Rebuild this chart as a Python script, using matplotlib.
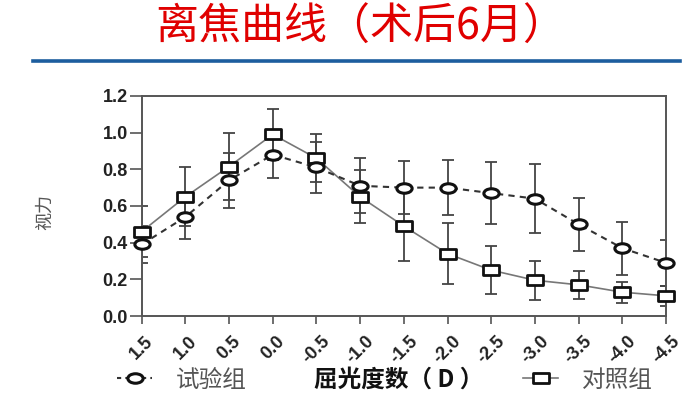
import numpy as np
import matplotlib
matplotlib.use("Agg")
import matplotlib.pyplot as plt
from matplotlib.path import Path
from matplotlib.transforms import Affine2D
from matplotlib.lines import Line2D

plt.rcParams['font.family'] = ['Noto Sans CJK SC', 'DejaVu Sans']
plt.rcParams['axes.unicode_minus'] = False

# 데이터
diopter = [1.5, 1.0, 0.5, 0.0, -0.5, -1.0, -1.5, -2.0, -2.5, -3.0, -3.5, -4.0, -4.5]
tick_labels = ['1.5', '1.0', '0.5', '0.0', '-0.5', '-1.0', '-1.5', '-2.0',
               '-2.5', '-3.0', '-3.5', '-4.0', '-4.5']
test_group = [0.39, 0.54, 0.74, 0.88, 0.81, 0.71, 0.70, 0.70, 0.67, 0.64, 0.50, 0.37, 0.29]
test_err = [0.10, 0.12, 0.15, 0.13, 0.14, 0.15, 0.145, 0.15, 0.17, 0.19, 0.145, 0.145, 0.125]
ctrl_group = [0.46, 0.65, 0.815, 0.99, 0.86, 0.65, 0.49, 0.34, 0.25, 0.195, 0.17, 0.13, 0.11]
ctrl_err = [0.14, 0.16, 0.185, 0.14, 0.13, 0.145, 0.19, 0.165, 0.13, 0.107, 0.076, 0.058, 0.055]

# 가로로 늘어난 마커
ellipse = Path.unit_circle().transformed(Affine2D().scale(1.0, 0.62))
rect = Path([(-1, -0.68), (1, -0.68), (1, 0.68), (-1, 0.68), (-1, -0.68)],
            [Path.MOVETO, Path.LINETO, Path.LINETO, Path.LINETO, Path.CLOSEPOLY])

fig = plt.figure(figsize=(7, 3.98), dpi=100)
ax = fig.add_axes([0.2024, 0.206, 0.749, 0.553])

err_kw = dict(fmt='none', ecolor='#444444', elinewidth=1.3, capsize=4, capthick=1.3, zorder=2)
ax.errorbar(diopter, test_group, yerr=test_err, **err_kw)
ax.errorbar(diopter, ctrl_group, yerr=ctrl_err, **err_kw)

l_ctrl, = ax.plot(diopter, ctrl_group, color='#777777', lw=1.2, marker=rect, ms=11,
                  mfc='white', mec='#111111', mew=2, zorder=3, clip_on=False)
l_test, = ax.plot(diopter, test_group, color='#333333', lw=1.5, ls=(0, (3, 2.5)), marker=ellipse,
                  ms=11, mfc='white', mec='#111111', mew=2.2, zorder=4, clip_on=False)

ax.set_xlim(1.5, -4.5)
ax.set_ylim(0, 1.2)
ax.set_xticks(diopter)
ax.set_xticklabels(tick_labels, rotation=45, ha='center')
ax.set_yticks(np.arange(0, 1.21, 0.2))
ax.set_yticklabels(['%.1f' % v for v in np.arange(0, 1.21, 0.2)])

for s in ax.spines.values():
    s.set_color('#555555')
    s.set_linewidth(1.4)
ax.tick_params(axis='y', direction='out', length=9, width=1.2, color='#555555', pad=1)
ax.tick_params(axis='x', direction='out', length=6, width=1.2, color='#555555', pad=6)
for lab in ax.get_xticklabels() + ax.get_yticklabels():
    lab.set_family('Liberation Sans')
    lab.set_fontweight('bold')
    lab.set_fontsize(13)
    lab.set_color('#222222')

# 제목, 구분선
fig.text(0.515, 0.93, '离焦曲线（术后6月）', color='#e00000', fontsize=31, ha='center', va='center')
fig.add_artist(Line2D([0.047, 0.971], [0.847, 0.847], color='#1c5d9e', lw=2.6, transform=fig.transFigure))

fig.text(0.064, 0.467, '视力', rotation=90, color='#555555', fontsize=13, ha='center', va='center')

# 범례 + x축 제목 (범례용 점선은 촘촘하게)
test_handle = Line2D([], [], color='#333333', lw=1.5, ls=(0, (2, 2)), marker=ellipse, ms=11,
                     mfc='white', mec='#111111', mew=2.2)
fig.legend(handles=[test_handle], labels=['试验组'], loc='center left', bbox_to_anchor=(0.167, 0.045),
           frameon=False, fontsize=17, handlelength=1.5, handletextpad=1.0, borderpad=0,
           borderaxespad=0, labelcolor='#555555')
fig.legend(handles=[l_ctrl], labels=['对照组'], loc='center left', bbox_to_anchor=(0.747, 0.045),
           frameon=False, fontsize=17, handlelength=1.5, handletextpad=1.0, borderpad=0,
           borderaxespad=0, labelcolor='#555555')
fig.text(0.57, 0.045, '屈光度数（ D ）', color='#111111', fontsize=17, fontweight='bold',
         ha='center', va='center')

plt.savefig('out.png', dpi=100)
